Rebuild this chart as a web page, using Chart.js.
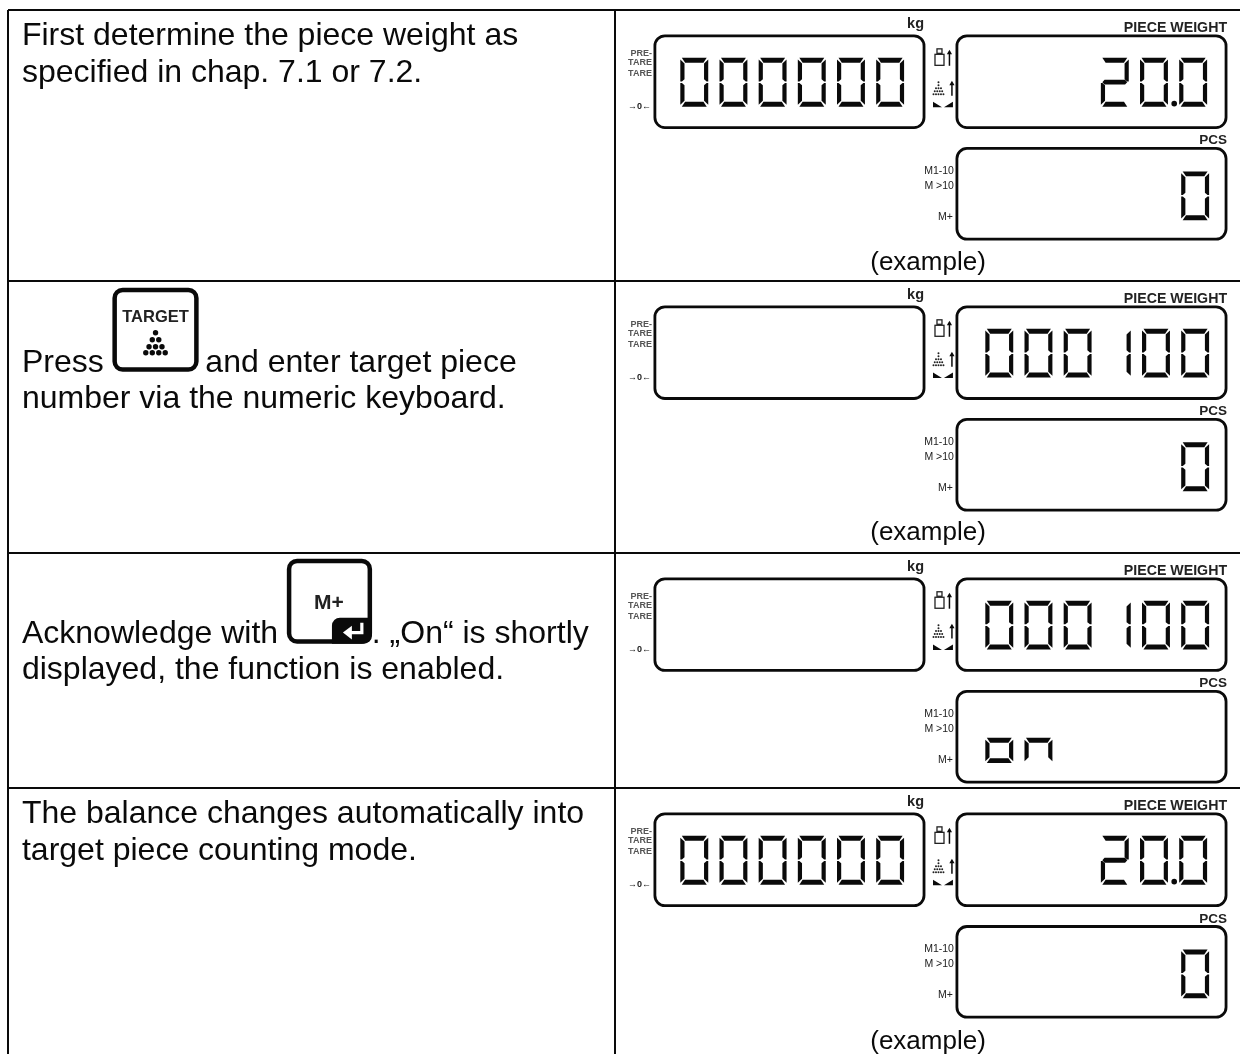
<!DOCTYPE html>
<html><head><meta charset="utf-8">
<style>html,body{margin:0;padding:0;background:#fff}canvas{display:block}</style>
<script src="https://cdn.jsdelivr.net/npm/chart.js@4/dist/chart.umd.js"></script>
</head><body><canvas id="c" width="1244" height="1058"></canvas>
<script>
const stepLines = [
  ["First determine the piece weight as", "specified in chap. 7.1 or 7.2."],
  ["and enter target piece", "number via the numeric keyboard."],
  [". \u201eOn\u201c is shortly", "displayed, the function is enabled."],
  ["The balance changes automatically into", "target piece counting mode."]
];
const leadWords = ["", "Press", "Acknowledge with", ""];
const weightReadout = ["000000", "", "", "000000"];
const pieceReadout = ["20.0", "000100", "000100", "20.0"];
const countReadout = ["0", "0", "on    ", "0"];
const captions = ["(example)", "(example)", "", "(example)"];
const tareLabels = ["PRE-", "TARE", "TARE", "\u21920\u2190"];
const memoryLabels = ["M1-10", "M >10", "M+"];
const unitLabels = ["kg", "PIECE WEIGHT", "PCS"];
const keyLabels = ["TARGET", "M+"];

// layout (page pixels; the scales run in page pixels)
const rowTops = [10, 282, 555, 791];
const columnLefts = [8, 617];
const panelShift = [0, 272, 545, 781];
const INK = "#0a0a0a", FONT = '"Liberation Sans"';
const CW = 28, CH = 49, PITCH = 39.3;
const SEGS = {"0":"abcdef","1":"bc","2":"abged"," ":""};

function decimalPoints() {
  const pts = [];
  pieceReadout.forEach((s, r) => {
    if (s.includes(".")) pts.push({x: 1178, y: 104 + panelShift[r]});
  });
  return pts;
}

const tablePlugin = {
  id: "manualTable",
  afterDatasetsDraw(chart) {
    const ctx = chart.ctx, X = v => chart.scales.x.getPixelForValue(v), Y = v => chart.scales.y.getPixelForValue(v);
    const text = (s, x, y, font, align, color) => {
      ctx.font = font; ctx.textAlign = align || "left"; ctx.textBaseline = "alphabetic";
      ctx.fillStyle = color || INK; ctx.fillText(s, X(x), Y(y));
    };
    const rrect = (x0, y0, x1, y1, r, lw) => {
      ctx.beginPath(); ctx.lineWidth = lw; ctx.strokeStyle = INK;
      ctx.roundRect(X(x0), Y(y0), X(x1) - X(x0), Y(y1) - Y(y0), r); ctx.stroke();
    };
    const poly = (pts, color) => {
      ctx.beginPath(); pts.forEach((p, i) => i ? ctx.lineTo(X(p[0]), Y(p[1])) : ctx.moveTo(X(p[0]), Y(p[1])));
      ctx.closePath(); ctx.fillStyle = color || INK; ctx.fill();
    };
    const dot = (x, y, r, color) => { ctx.beginPath(); ctx.arc(X(x), Y(y), r, 0, 7); ctx.fillStyle = color || INK; ctx.fill(); };
    const seg = (x, y, name) => {
      const W = CW, H = CH, m = H / 2, h = 5, v = 4.2, b = 2.2;
      const shapes = {
        a: [[x+1.5,y],[x+W-1.5,y],[x+W-v-.6,y+h],[x+v+.6,y+h]],
        d: [[x+1.5,y+H],[x+W-1.5,y+H],[x+W-v-.6,y+H-h],[x+v+.6,y+H-h]],
        f: [[x,y+1.8],[x+v,y+h+.8],[x+v,y+m-3],[x+1.6,y+m-.8],[x,y+m-.8]],
        e: [[x,y+H-1.8],[x+v,y+H-h-.8],[x+v,y+m+3],[x+1.6,y+m+.8],[x,y+m+.8]],
        b: [[x+W,y+1.8],[x+W-v,y+h+.8],[x+W-v,y+m-3],[x+W-1.6,y+m-.8],[x+W,y+m-.8]],
        c: [[x+W,y+H-1.8],[x+W-v,y+H-h-.8],[x+W-v,y+m+3],[x+W-1.6,y+m+.8],[x+W,y+m+.8]],
        g: [[x+1.5,y+m],[x+1.5+b,y+m-2.4],[x+W-1.5-b,y+m-2.4],[x+W-1.5,y+m],[x+W-1.5-b,y+m+2.4],[x+1.5+b,y+m+2.4]]
      };
      poly(shapes[name]);
    };
    const glyph = (ch, x, y) => { for (const s of (SEGS[ch] || "")) seg(x, y, s); };
    const lowerGlyph = (ch, x, y) => {
      // "on": the lower half of the cell only
      const m = CH / 2 - 1, W = CW, v = 4.2, h = 5;
      poly([[x,y+m+2],[x+v,y+m+h+.8],[x+v,y+CH-h-.8],[x,y+CH-1.8]]);
      poly([[x+W,y+m+2],[x+W-v,y+m+h+.8],[x+W-v,y+CH-h-.8],[x+W,y+CH-1.8]]);
      poly([[x+1.5,y+m],[x+W-1.5,y+m],[x+W-v-.6,y+m+h],[x+v+.6,y+m+h]]);
      if (ch === "o") seg(x, y, "d");
    };
    const readout = (s, rightEdge, y) => {
      const cells = s.replace(".", "");
      [...cells].forEach((ch, i) => {
        const x = rightEdge - CW - (cells.length - 1 - i) * PITCH;
        if (ch === "o" || ch === "n") lowerGlyph(ch, x, y); else glyph(ch, x, y);
      });
    };
    const arrowUp = (x, y0, y1) => {
      ctx.beginPath(); ctx.moveTo(X(x), Y(y1)); ctx.lineTo(X(x), Y(y0 + 2));
      ctx.strokeStyle = INK; ctx.lineWidth = 1.5; ctx.stroke();
      poly([[x - 2.6, y0 + 4.5], [x, y0], [x + 2.6, y0 + 4.5]]);
    };

    // body text
    const BODY = "32px " + FONT;
    const baselines = [[45.5, 82], [373, 409.5], [645, 682], [826.5, 863]];
    const firstX = [22, 206, 373, 22];
    stepLines.forEach((lines, r) => {
      if (leadWords[r]) text(leadWords[r], 22, baselines[r][0], BODY);
      text(lines[0], firstX[r], baselines[r][0], BODY);
      text(lines[1], 22, baselines[r][1], BODY);
    });

    // TARGET key
    ctx.filter = "blur(0.4px)";
    rrect(115, 291, 197, 371, 8, 4.5);
    text(keyLabels[0], 156, 323, "bold 16.5px " + FONT, "center", "#222");
    [[334, 1], [341, 2], [348, 3], [354, 4]].forEach(([y, n]) => {
      for (let i = 0; i < n; i++) dot(156 + (i - (n - 1) / 2) * 6.5, y, 2.7);
    });
    // M+ key
    rrect(290, 563, 371, 644, 8, 4.5);
    text(keyLabels[1], 330, 611, "bold 21px " + FONT, "center", "#222");
    ctx.beginPath(); ctx.fillStyle = INK;
    ctx.roundRect(X(333), Y(620), 40, 26, [8, 0, 8, 0]); ctx.fill();
    ctx.strokeStyle = "#fff"; ctx.lineWidth = 3.2;
    ctx.beginPath(); ctx.moveTo(X(363), Y(625)); ctx.lineTo(X(363), Y(635)); ctx.lineTo(X(349), Y(635)); ctx.stroke();
    poly([[353, 628], [344, 635], [353, 642]], "#fff");

    // display panels
    panelShift.forEach((d, r) => {
      ctx.filter = "blur(0.5px)";
      rrect(657, 36 + d, 927, 128 + d, 10, 2.8);
      rrect(960, 36 + d, 1230, 128 + d, 10, 2.8);
      rrect(960, 149 + d, 1230, 240 + d, 10, 2.8);
      text(unitLabels[0], 927, 28 + d, "bold 14.5px " + FONT, "right", "#222");
      text(unitLabels[1], 1231, 32 + d, "bold 14.2px " + FONT, "right", "#222");
      text(unitLabels[2], 1231, 145 + d, "bold 13.5px " + FONT, "right", "#222");
      const small = "bold 9px " + FONT, gray = "#555";
      text(tareLabels[0], 654, 56 + d, small, "right", gray);
      text(tareLabels[1], 654, 65 + d, small, "right", gray);
      text(tareLabels[2], 654, 76 + d, small, "right", gray);
      text(tareLabels[3], 653, 109 + d, "bold 9px " + FONT, "right", "#222");
      const mem = "10.5px " + FONT;
      text(memoryLabels[0], 957, 175 + d, mem, "right", "#222");
      text(memoryLabels[1], 957, 190 + d, mem, "right", "#222");
      text(memoryLabels[2], 956, 221 + d, mem, "right", "#222");
      // weight icon
      ctx.strokeStyle = "#222"; ctx.lineWidth = 1.3;
      ctx.strokeRect(X(938), Y(54.5 + d), 9, 11);
      ctx.strokeRect(X(940), Y(49 + d), 5, 4.5);
      arrowUp(952.5, 50 + d, 66 + d);
      // pile icon
      [[82.5, 1], [85.5, 1], [88.5, 3], [91.5, 4], [94.5, 5]].forEach(([y, n]) => {
        for (let i = 0; i < n; i++) dot(941.5 + (i - (n - 1) / 2) * 2.5, y + d, 1, "#222");
      });
      arrowUp(955, 81 + d, 96 + d);
      poly([[936, 102 + d], [945, 107.5 + d], [936, 107.5 + d]]);
      poly([[956, 102 + d], [956, 107.5 + d], [947, 107.5 + d]]);
      // readouts
      if (weightReadout[r]) readout(weightReadout[r], 907, 58 + d);
      const pr = pieceReadout[r];
      readout(pr, pr.includes(".") ? 1211 : 1213, 58 + d);
      readout(countReadout[r], 1213, 172 + d);
      ctx.filter = "none";
      if (captions[r]) text(captions[r], 931, 270.5 + d + (r === 3 ? 1 : 0), "26px " + FONT, "center");
    });
  }
};

new Chart(document.getElementById("c"), {
  type: "scatter",
  data: { datasets: [{ data: decimalPoints(), pointRadius: 2.8, pointBackgroundColor: INK, pointBorderWidth: 0, showLine: false }] },
  options: {
    responsive: false, animation: false, events: [],
    layout: { padding: { left: columnLefts[0], top: rowTops[0], right: 0, bottom: 0 } },
    plugins: { legend: { display: false }, tooltip: { enabled: false }, title: { display: false } },
    scales: {
      x: { type: "linear", min: columnLefts[0], max: 1244,
        afterBuildTicks: s => { s.ticks = columnLefts.map(value => ({ value })); },
        grid: { color: INK, lineWidth: 2, drawTicks: false }, border: { display: false }, ticks: { display: false } },
      y: { type: "linear", reverse: true, min: rowTops[0], max: 1058,
        afterBuildTicks: s => { s.ticks = rowTops.map(value => ({ value })); },
        grid: { color: INK, lineWidth: 2, drawTicks: false }, border: { display: false }, ticks: { display: false } }
    }
  },
  plugins: [tablePlugin]
});
</script></body></html>
